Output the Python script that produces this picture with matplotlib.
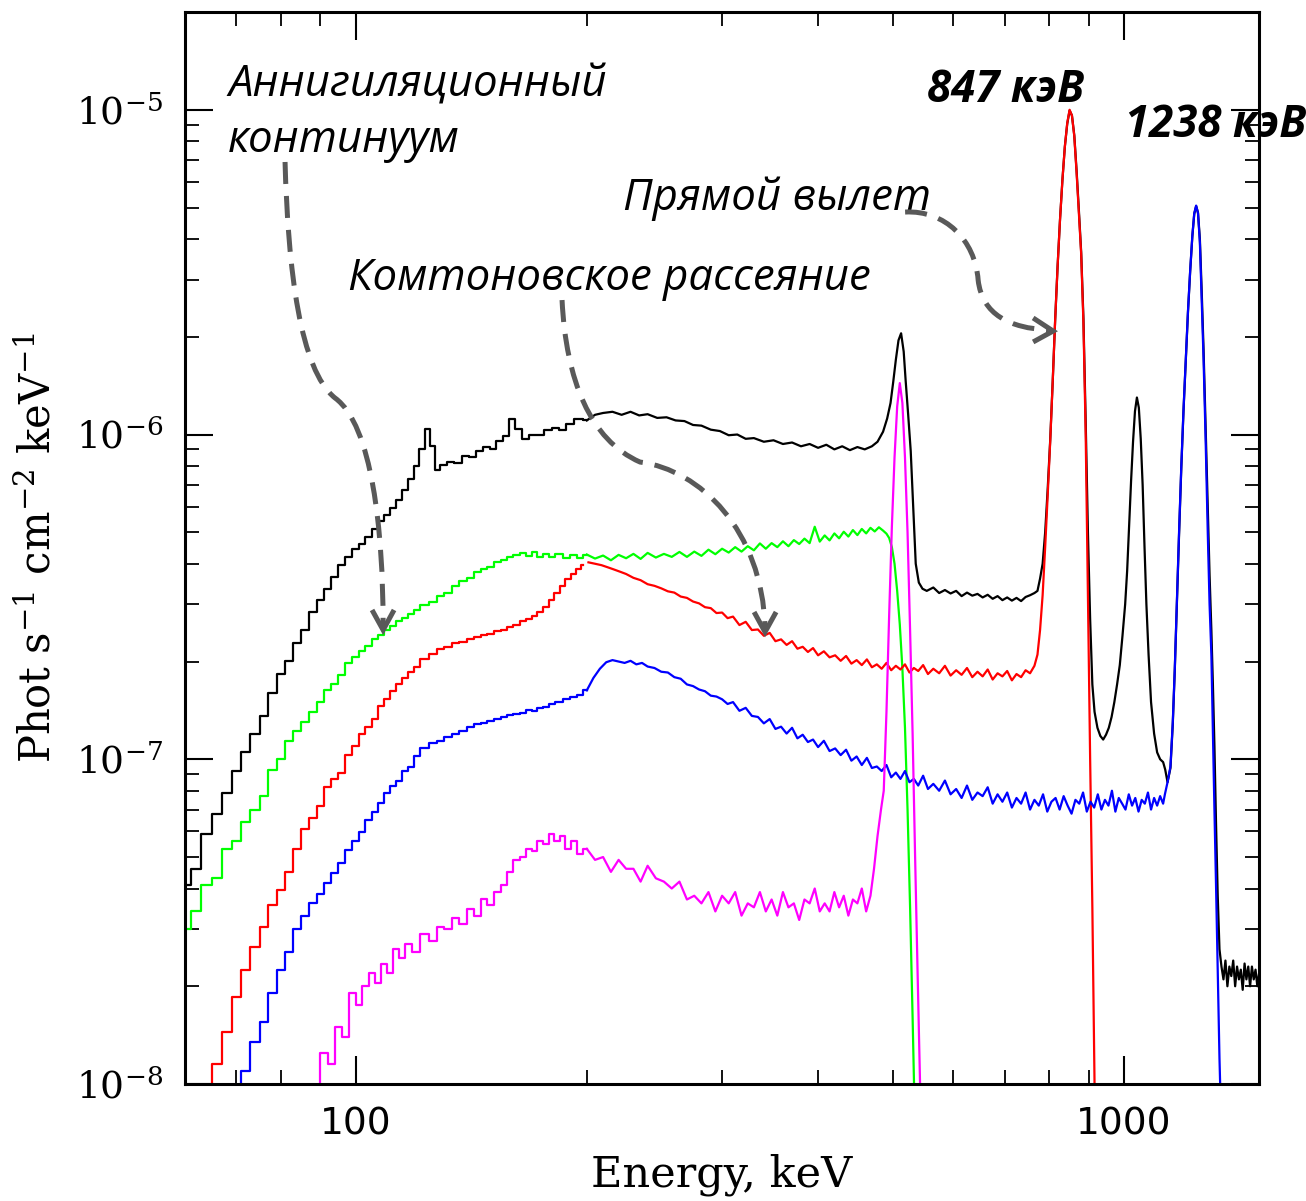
import numpy as np
import matplotlib
matplotlib.use("Agg")
import matplotlib.pyplot as plt
from matplotlib.path import Path
from matplotlib.patches import PathPatch
from matplotlib.ticker import FixedLocator, LogLocator, NullFormatter, FuncFormatter

plt.rcParams["mathtext.fontset"] = "dejavuserif"

# flux values are given in units of 1e-8 phot s^-1 cm^-2 keV^-1, energies in keV
UNIT = 1e-8

black = [
    (60, 4.1), (62, 4.6), (64, 5.9), (66, 6.8), (68, 7.9), (70, 9.2), (72, 10.5), (74, 12.0), (76, 13.6), (78, 16.0),
    (80, 18.3), (82, 20.1), (84, 22.8), (86, 25.0), (88, 28.4), (90, 31.0), (92, 33.5), (94, 36.5), (96, 39.6), (98, 42.0),
    (100, 44.5), (102, 46.0), (104, 48.5), (106, 51.0), (108, 54.0), (110, 56.5), (112, 59.5), (114, 63.0), (116, 67.5),
    (118, 73.0), (120, 80.0), (122, 90.0), (124, 104.0), (126, 92.0), (128, 78.0), (130, 80.5), (133, 82.5), (136, 81.5),
    (139, 86.0), (142, 85.0), (145, 89.0), (148, 91.5), (151, 90.0), (154, 95.5), (157, 99.0), (160, 112.0), (163, 104.0),
    (166, 97.0), (170, 100.0), (174, 99.5), (178, 103.0), (182, 104.5), (186, 103.5), (190, 108.0), (195, 111.5),
    (200, 110.5), (205, 115.0), (210, 116.5), (216, 117.5), (222, 115.0), (228, 117.5), (234, 114.5), (240, 115.5),
    (247, 112.5), (254, 113.0), (261, 110.5), (268, 110.0), (275, 107.0), (282, 106.5), (290, 103.5), (298, 102.5),
    (306, 99.5), (314, 100.0), (322, 97.0), (330, 97.5), (340, 95.0), (350, 96.0), (360, 93.5), (370, 94.5), (380, 92.0),
    (390, 93.5), (400, 91.0), (410, 93.0), (420, 90.0), (430, 92.0), (440, 89.5), (450, 91.5), (460, 90.0), (470, 92.0),
    (478, 95.0), (486, 102.0), (492, 112.0), (497, 125.0), (501, 145.0), (505, 170.0), (509, 195.0), (513, 205.0),
    (517, 180.0), (520, 147.0), (524, 115.0), (528, 89.0), (532, 60.0), (536, 40.0), (541, 35.0), (547, 33.5), (554, 33.0),
    (565, 33.8), (575, 32.5), (585, 33.2), (595, 32.4), (605, 33.0), (615, 31.8), (625, 32.6), (635, 31.9), (645, 32.3),
    (655, 31.5), (665, 32.1), (675, 31.2), (685, 31.8), (695, 30.9), (705, 31.5), (715, 30.8), (725, 31.4), (735, 30.7),
    (745, 31.6), (755, 32.0), (765, 32.5), (772, 33.0), (778, 36.0), (784, 40.0), (790, 50.0), (796, 68.0), (802, 96.0),
    (808, 145.0), (814, 225.0), (820, 330.0), (826, 460.0), (832, 610.0), (838, 770.0), (844, 905.0), (850, 995.0),
    (856, 960.0), (862, 835.0), (868, 650.0), (874, 490.0), (880, 365.0), (886, 228.0), (892, 110.0), (898, 50.0),
    (904, 27.0), (910, 17.0), (916, 14.0), (924, 12.5), (932, 11.8), (940, 11.5), (948, 11.9), (956, 12.5), (964, 13.5),
    (972, 15.0), (980, 17.0), (988, 19.5), (996, 24.0), (1004, 30.0), (1010, 38.0), (1016, 52.0), (1022, 72.0),
    (1028, 95.0), (1034, 118.0), (1040, 130.0), (1046, 121.0), (1052, 97.0), (1058, 70.0), (1064, 45.0), (1070, 30.0),
    (1077, 21.0), (1085, 15.0), (1095, 12.0), (1105, 10.5), (1115, 10.0), (1125, 9.8), (1132, 9.3), (1140, 8.5),
    (1150, 9.4), (1158, 12.8), (1165, 18.8), (1172, 29.5), (1180, 49.0), (1188, 79.0), (1196, 119.0), (1204, 168.0),
    (1212, 238.0), (1220, 318.0), (1228, 408.0), (1235, 478.0), (1242, 505.0), (1249, 482.0), (1256, 400.0),
    (1263, 275.0), (1270, 182.0), (1278, 105.0), (1286, 60.0), (1293, 37.0), (1300, 25.0), (1306, 17.0), (1312, 11.0),
    (1318, 6.5), (1325, 3.8), (1332, 2.6), (1340, 2.3), (1348, 2.1), (1356, 2.4), (1364, 2.0), (1372, 2.3), (1380, 2.15),
    (1388, 2.4), (1396, 2.0), (1404, 2.3), (1412, 2.1), (1420, 2.25), (1428, 1.95), (1436, 2.35), (1444, 2.1),
    (1452, 2.3), (1460, 2.0), (1468, 2.3), (1476, 2.1), (1484, 2.25), (1492, 2.0), (1500, 2.2),
]

green = [
    (60, 3.0), (62, 3.4), (64, 4.1), (66, 4.3), (68, 5.3), (70, 5.6), (72, 6.4), (74, 7.0), (76, 7.7), (78, 9.3),
    (80, 10.0), (82, 11.4), (84, 12.2), (86, 13.0), (88, 14.0), (90, 15.0), (92, 16.3), (94, 17.0), (96, 18.2),
    (98, 19.8), (100, 20.6), (102, 21.6), (104, 22.3), (106, 23.5), (108, 24.2), (110, 25.0), (112, 25.8), (114, 26.7),
    (116, 27.3), (118, 28.0), (120, 28.9), (123, 29.8), (126, 30.5), (129, 31.8), (132, 32.6), (135, 34.2), (138, 35.3),
    (141, 36.1), (144, 37.8), (147, 38.6), (150, 39.2), (153, 40.6), (156, 41.0), (159, 41.9), (162, 42.5), (165, 43.2),
    (168, 42.3), (171, 43.5), (174, 42.0), (177, 42.9), (180, 41.9), (184, 42.8), (188, 41.6), (192, 42.6), (196, 41.8),
    (200, 42.7), (205, 41.5), (210, 42.4), (215, 41.0), (220, 42.6), (225, 41.6), (230, 42.9), (235, 41.4), (240, 43.2),
    (246, 41.8), (252, 42.9), (258, 42.0), (264, 43.5), (270, 42.0), (276, 43.6), (282, 42.3), (288, 44.2), (294, 42.8),
    (300, 44.5), (306, 43.3), (312, 45.0), (318, 43.6), (324, 45.3), (330, 44.0), (336, 46.2), (342, 44.5), (348, 46.3),
    (354, 45.0), (360, 46.9), (366, 45.3), (372, 47.3), (378, 46.0), (384, 47.8), (390, 46.3), (396, 52.0), (402, 46.8),
    (408, 48.9), (414, 47.2), (420, 49.6), (426, 47.9), (432, 50.2), (438, 48.5), (444, 50.8), (450, 49.0), (456, 51.2),
    (462, 49.6), (468, 51.6), (474, 50.3), (480, 51.8), (486, 50.6), (491, 49.5), (495, 48.0), (499, 45.0), (503, 40.0),
    (507, 33.0), (511, 26.0), (515, 19.0), (519, 12.5), (523, 7.0), (527, 3.5), (531, 1.6), (535, 0.7),
]

red = [
    (64, 0.8), (66, 1.15), (68, 1.45), (70, 1.85), (72, 2.25), (74, 2.65), (76, 3.05), (78, 3.55), (80, 3.95), (82, 4.5),
    (84, 5.3), (86, 6.1), (88, 6.6), (90, 7.2), (92, 8.2), (94, 8.7), (96, 9.1), (98, 10.3), (100, 11.0), (102, 12.0),
    (104, 12.6), (106, 13.3), (108, 14.6), (110, 15.3), (112, 16.2), (114, 17.0), (116, 17.8), (118, 18.6), (120, 19.2),
    (123, 20.3), (126, 21.1), (129, 21.8), (132, 22.1), (135, 22.8), (138, 23.0), (141, 23.4), (144, 23.8), (147, 24.1),
    (150, 24.3), (153, 24.9), (156, 25.0), (159, 25.6), (162, 26.0), (165, 26.6), (168, 27.0), (171, 27.6), (174, 28.4),
    (177, 29.5), (180, 31.0), (183, 32.5), (186, 34.2), (189, 35.8), (192, 37.3), (195, 38.5), (198, 39.6), (201, 40.4),
    (205, 40.0), (209, 39.6), (213, 39.0), (217, 38.4), (221, 37.8), (225, 37.2), (230, 36.2), (235, 35.6), (240, 34.6),
    (245, 34.2), (250, 33.6), (255, 32.9), (260, 32.6), (265, 31.7), (270, 31.4), (275, 30.6), (280, 30.2), (285, 29.4),
    (290, 29.2), (295, 28.2), (300, 28.3), (305, 27.2), (310, 27.5), (316, 25.9), (322, 26.5), (328, 25.0), (334, 25.1),
    (340, 24.0), (346, 24.5), (352, 23.1), (358, 23.4), (364, 22.5), (370, 23.1), (376, 21.9), (382, 22.2), (388, 21.4),
    (394, 22.0), (400, 20.9), (407, 21.5), (414, 20.6), (421, 20.9), (428, 20.1), (435, 20.8), (442, 19.7), (449, 20.2),
    (456, 19.5), (463, 20.3), (470, 19.2), (477, 19.6), (484, 19.0), (491, 19.8), (498, 18.8), (505, 19.4), (512, 18.9),
    (519, 19.6), (526, 18.5), (533, 19.1), (540, 18.7), (548, 19.5), (556, 18.3), (565, 19.0), (575, 18.4), (585, 19.4),
    (595, 18.1), (605, 18.8), (615, 18.2), (625, 19.1), (635, 17.9), (645, 18.6), (655, 18.0), (665, 18.9), (675, 17.6),
    (685, 18.4), (695, 18.0), (705, 18.7), (715, 17.5), (725, 18.3), (735, 17.9), (745, 18.8), (755, 18.4), (765, 19.4),
    (772, 21.0), (778, 25.0), (784, 32.0), (790, 45.0), (796, 65.0), (802, 95.0), (808, 145.0), (814, 225.0),
    (820, 330.0), (826, 460.0), (832, 610.0), (838, 770.0), (844, 910.0), (850, 1000.0), (856, 960.0), (862, 830.0),
    (868, 640.0), (874, 480.0), (880, 360.0), (886, 220.0), (892, 100.0), (898, 32.0), (904, 10.0), (910, 3.5),
    (916, 1.0), (920, 0.6),
]

blue = [
    (70, 0.8), (72, 1.1), (74, 1.35), (76, 1.55), (78, 1.9), (80, 2.25), (82, 2.55), (84, 3.0), (86, 3.3), (88, 3.6),
    (90, 3.85), (92, 4.15), (94, 4.45), (96, 4.8), (98, 5.25), (100, 5.6), (102, 5.95), (104, 6.5), (106, 6.9),
    (108, 7.35), (110, 7.9), (112, 8.25), (114, 8.6), (116, 9.2), (118, 9.5), (120, 10.2), (123, 10.8), (126, 11.2),
    (129, 11.4), (132, 11.7), (135, 12.0), (138, 12.2), (141, 12.6), (144, 12.8), (147, 12.9), (150, 13.1), (153, 13.3),
    (156, 13.5), (159, 13.7), (162, 13.8), (165, 13.9), (168, 14.2), (171, 14.1), (174, 14.4), (177, 14.5), (180, 14.8),
    (184, 15.0), (188, 15.3), (192, 15.5), (196, 15.8), (200, 16.3), (204, 17.8), (208, 19.0), (212, 19.9), (216, 20.2),
    (220, 20.0), (224, 19.8), (228, 20.1), (232, 19.6), (236, 19.8), (240, 19.3), (245, 19.1), (250, 18.6), (255, 18.5),
    (260, 17.9), (265, 17.7), (270, 17.0), (275, 16.8), (280, 16.4), (285, 16.2), (290, 15.7), (295, 15.6), (300, 15.3),
    (305, 14.8), (310, 15.0), (316, 14.1), (322, 14.4), (328, 13.6), (334, 13.5), (340, 12.9), (346, 13.3), (352, 12.4),
    (358, 12.6), (364, 12.0), (370, 12.5), (376, 11.6), (382, 11.9), (388, 11.3), (394, 11.5), (400, 10.9), (407, 11.4),
    (414, 10.6), (421, 10.8), (428, 10.3), (435, 10.7), (442, 9.9), (449, 10.2), (456, 9.6), (463, 10.1), (470, 9.4),
    (477, 9.5), (484, 9.2), (491, 9.6), (498, 8.8), (505, 9.1), (512, 8.7), (519, 9.2), (526, 8.5), (533, 8.7),
    (540, 8.3), (548, 8.9), (556, 8.1), (565, 8.4), (575, 8.0), (585, 8.6), (595, 7.8), (605, 8.1), (615, 7.6),
    (625, 8.3), (635, 7.5), (645, 7.9), (655, 7.7), (665, 8.2), (675, 7.3), (685, 7.8), (695, 7.4), (705, 7.9),
    (715, 7.1), (725, 7.6), (735, 7.3), (745, 7.9), (755, 7.0), (765, 7.5), (775, 7.2), (785, 7.8), (795, 6.9),
    (805, 7.4), (815, 7.6), (825, 7.0), (835, 7.7), (845, 7.2), (855, 6.8), (865, 7.5), (875, 7.3), (885, 7.9),
    (895, 6.9), (905, 7.4), (915, 7.1), (925, 7.8), (935, 7.0), (945, 7.5), (955, 7.2), (965, 8.0), (975, 6.9),
    (985, 7.6), (995, 7.3), (1005, 7.0), (1015, 7.8), (1025, 7.2), (1035, 7.6), (1045, 6.9), (1055, 7.5), (1065, 7.3),
    (1075, 7.9), (1085, 7.0), (1095, 7.6), (1105, 7.2), (1115, 7.7), (1125, 7.3), (1131, 7.8), (1140, 8.5),
    (1150, 9.5), (1158, 13.0), (1165, 19.0), (1172, 30.0), (1180, 50.0), (1188, 80.0), (1196, 120.0), (1204, 170.0),
    (1212, 240.0), (1220, 320.0), (1228, 410.0), (1235, 480.0), (1242, 507.0), (1249, 480.0), (1256, 390.0),
    (1263, 260.0), (1270, 170.0), (1278, 95.0), (1286, 50.0), (1293, 30.0), (1300, 21.0), (1306, 12.0), (1312, 7.0),
    (1318, 4.2), (1325, 2.2), (1332, 1.2), (1338, 0.8),
]

magenta = [
    (89, 0.8), (91, 1.25), (93, 1.15), (95, 1.5), (97, 1.4), (99, 1.9), (101, 1.75), (103, 2.0), (105, 2.2), (107, 2.05),
    (109, 2.35), (111, 2.2), (113, 2.6), (115, 2.45), (117, 2.7), (120, 2.55), (123, 2.9), (126, 2.75), (129, 3.05),
    (132, 3.0), (135, 3.25), (138, 3.1), (141, 3.45), (144, 3.3), (147, 3.7), (150, 3.55), (153, 3.9), (156, 4.1),
    (159, 4.5), (162, 4.9), (165, 5.0), (168, 5.3), (171, 5.2), (174, 5.6), (177, 5.5), (180, 5.9), (183, 5.6),
    (186, 5.8), (189, 5.3), (192, 5.6), (196, 5.1), (200, 5.3), (205, 4.9), (210, 5.0), (215, 4.5), (220, 4.9),
    (225, 4.6), (230, 4.6), (235, 4.2), (240, 4.7), (246, 4.3), (252, 4.2), (258, 4.0), (264, 4.2), (270, 3.7),
    (276, 3.8), (282, 3.6), (288, 3.9), (294, 3.4), (300, 3.8), (306, 3.6), (312, 3.9), (318, 3.3), (324, 3.6),
    (330, 3.5), (336, 3.9), (342, 3.4), (348, 3.7), (354, 3.3), (360, 3.9), (366, 3.5), (372, 3.6), (378, 3.2),
    (384, 3.7), (390, 3.6), (396, 4.0), (402, 3.4), (408, 3.6), (414, 3.4), (420, 3.9), (426, 3.5), (432, 3.8),
    (438, 3.3), (444, 3.7), (450, 3.6), (456, 4.0), (462, 3.4), (468, 3.8), (473, 4.6), (478, 5.8), (483, 7.0),
    (487, 8.0), (491, 14.0), (495, 28.0), (499, 52.0), (503, 85.0), (507, 122.0), (511, 144.0), (515, 125.0),
    (519, 85.0), (523, 50.0), (527, 25.0), (531, 12.0), (535, 5.0), (539, 2.2), (543, 1.0), (547, 0.5),
]

series = [(black, "black"), (green, "#00ff00"), (red, "#ff0000"), (blue, "#0000ff"), (magenta, "#ff00ff")]
STEP_LIMIT = 200  # histogram steps are drawn below this energy, fine bins above

GREY = "#595959"
TXT_FONT = ["Open Sans", "DejaVu Sans"]

fig = plt.figure(figsize=(13.06, 12.01), dpi=100)
ax = fig.add_axes([0.1417, 0.0974, 0.8224, 0.8926])

for data, color in series:
    e, f = np.array(data).T
    lo = e <= STEP_LIMIT
    hi = e >= STEP_LIMIT
    ax.step(e[lo], f[lo] * UNIT, where="mid", color=color, lw=1.6)
    ax.plot(e[hi], f[hi] * UNIT, color=color, lw=1.6)

ax.set_xscale("log")
ax.set_yscale("log")
ax.set_xlim(60, 1500)
ax.set_ylim(1e-8, 2e-5)

ax.xaxis.set_major_locator(FixedLocator([100, 1000]))
ax.xaxis.set_minor_locator(LogLocator(base=10, subs=np.arange(2, 10), numticks=20))
ax.xaxis.set_major_formatter(FuncFormatter(lambda v, p: f"{v:.0f}"))
ax.xaxis.set_minor_formatter(NullFormatter())
ax.yaxis.set_major_locator(LogLocator(base=10, numticks=20))
ax.yaxis.set_minor_locator(LogLocator(base=10, subs=np.arange(2, 10), numticks=50))
ax.yaxis.set_major_formatter(FuncFormatter(lambda v, p: r"$10^{%d}$" % round(np.log10(v))))
ax.yaxis.set_minor_formatter(NullFormatter())

ax.tick_params(which="both", direction="in", top=True, right=True)
ax.tick_params(which="major", length=20, width=1.5, labelsize=27, pad=16)
ax.tick_params(which="minor", length=10, width=1.3)
for s in ax.spines.values():
    s.set_linewidth(2.2)

ax.set_xlabel("Energy, keV", family="DejaVu Serif", fontsize=31, labelpad=8)
ax.set_ylabel(r"Phot s$^{-1}$ cm$^{-2}$ keV$^{-1}$", family="DejaVu Serif", fontsize=30, labelpad=12)

# annotations
kw = dict(transform=ax.transAxes, family=TXT_FONT, style="italic", fontsize=31.5, va="baseline")
ax.text(0.040, 0.921, "Аннигиляционный", **kw)
ax.text(0.040, 0.869, "континуум", **kw)
ax.text(0.152, 0.741, "Комтоновское рассеяние", **kw)
ax.text(0.408, 0.815, "Прямой вылет", **kw)
ax.text(0.691, 0.916, "847 кэВ", weight="bold", **kw)
ax.text(0.875, 0.883, "1238 кэВ", weight="bold", clip_on=False, **kw)

C4 = Path.CURVE4
arrows = [
    ([(0.0931, 0.8601), (0.0959, 0.7593), (0.1071, 0.6660), (0.1397, 0.6399),
      (0.1741, 0.6147), (0.1844, 0.5168), (0.1844, 0.4280)],
     [(0.1741, 0.4422), (0.1844, 0.4235), (0.1946, 0.4422)]),
    ([(0.3510, 0.7313), (0.3547, 0.6567), (0.3771, 0.6007), (0.4236, 0.5802),
      (0.4795, 0.5728), (0.5372, 0.5168), (0.5400, 0.4260)],
     [(0.5298, 0.4403), (0.5400, 0.4216), (0.5503, 0.4403)]),
    ([(0.6704, 0.8134), (0.7076, 0.8153), (0.7356, 0.7873), (0.7384, 0.7500),
      (0.7421, 0.7174), (0.7682, 0.7052), (0.8035, 0.7034)],
     [(0.7896, 0.7146), (0.8082, 0.7024), (0.7896, 0.6922)]),
]
for verts, head in arrows:
    path = Path(verts, [Path.MOVETO, C4, C4, C4, C4, C4, C4])
    ax.add_patch(PathPatch(path, transform=ax.transAxes, fill=False, edgecolor=GREY,
                           lw=3.6, linestyle=(0, (4.4, 2.4)), capstyle="butt", zorder=6))
    hx, hy = zip(*head)
    ax.plot(hx, hy, transform=ax.transAxes, color=GREY, lw=3.6, zorder=6,
            solid_joinstyle="miter", solid_capstyle="butt")

fig.savefig("out.png", dpi=100)
